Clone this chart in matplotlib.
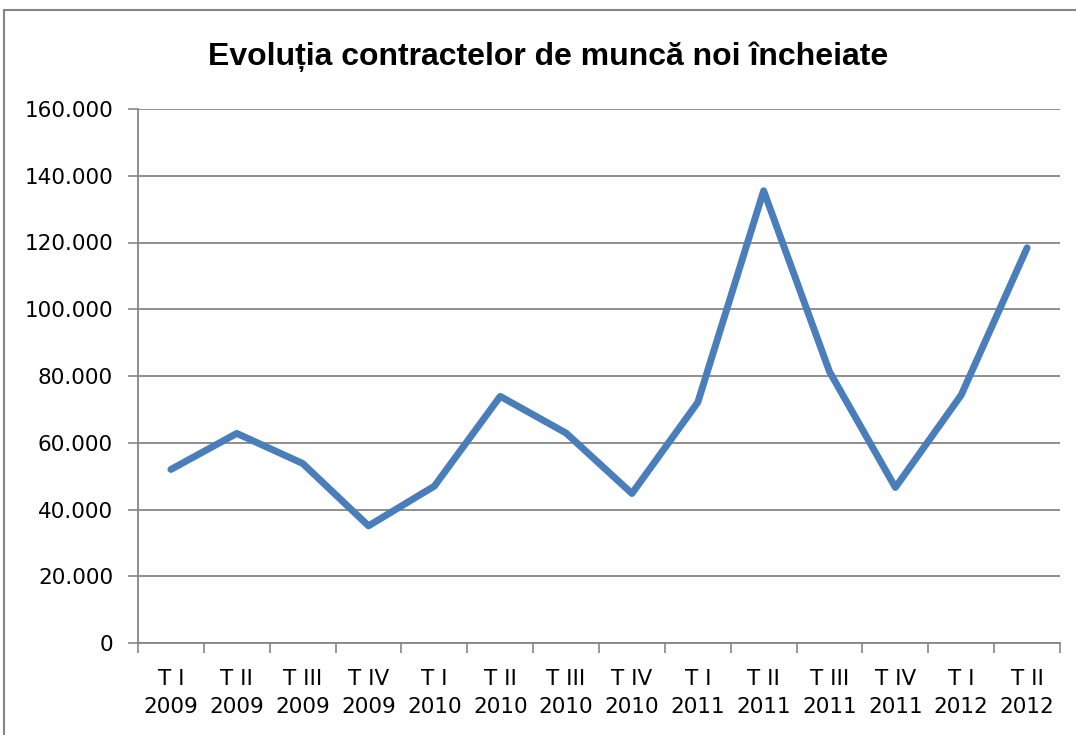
import matplotlib

matplotlib.use("Agg")
import matplotlib.pyplot as plt
from matplotlib.patches import Rectangle
from matplotlib.ticker import FuncFormatter, FixedLocator

quarters = ["T I", "T II", "T III", "T IV"] * 3 + ["T I", "T II"]
years = ["2009"] * 4 + ["2010"] * 4 + ["2011"] * 4 + ["2012"] * 2
contracts = [52000, 62800, 53800, 35100, 47000, 73900, 62900,
             44800, 72100, 135500, 81300, 46600, 74300, 118400]

labels = [f"{q}\n{y}" for q, y in zip(quarters, years)]
blue = "#4a7ebb"
grey = "#868686"

plt.rcParams["font.family"] = ["DejaVu Sans"]

fig = plt.figure(figsize=(10.76, 7.35), dpi=100)
ax = fig.add_axes([138 / 1076, 1 - 643 / 735, 922 / 1076, 534 / 735])

x = range(len(contracts))
ax.plot(x, contracts, color=blue, lw=5, solid_joinstyle="round", solid_capstyle="round")

ax.set_xlim(-0.5, len(contracts) - 0.5)
ax.set_ylim(0, 160000)
ax.set_yticks(range(0, 160001, 20000))
ax.yaxis.set_major_formatter(FuncFormatter(lambda v, _: f"{int(v):,}".replace(",", ".")))
ax.grid(axis="y", color=grey, lw=1.3)
ax.set_axisbelow(True)

ax.set_xticks(list(x))
ax.set_xticklabels(labels, fontsize=15.5, linespacing=1.45)
ax.xaxis.set_minor_locator(FixedLocator([i - 0.5 for i in range(len(contracts) + 1)]))
ax.tick_params(axis="x", which="major", length=0, pad=19)
ax.tick_params(axis="x", which="minor", length=7, color=grey, width=1.2)
ax.tick_params(axis="y", length=7, color=grey, width=1.2, labelsize=15.5, pad=11)

for side in ("top", "right"):
    ax.spines[side].set_visible(False)
for side in ("left", "bottom"):
    ax.spines[side].set_color(grey)
    ax.spines[side].set_linewidth(1.3)

fig.text(548 / 1076, 1 - 57 / 735, "Evoluția contractelor de muncă noi încheiate",
         ha="center", va="center", fontsize=23, fontweight="bold",
         family=["Liberation Sans", "DejaVu Sans"])

fig.patches.append(Rectangle((4 / 1076, -0.02), 1.1, 1 - 10 / 735 + 0.02,
                             transform=fig.transFigure, fill=False,
                             edgecolor=grey, lw=1.5))

fig.savefig("out.png", dpi=100)
